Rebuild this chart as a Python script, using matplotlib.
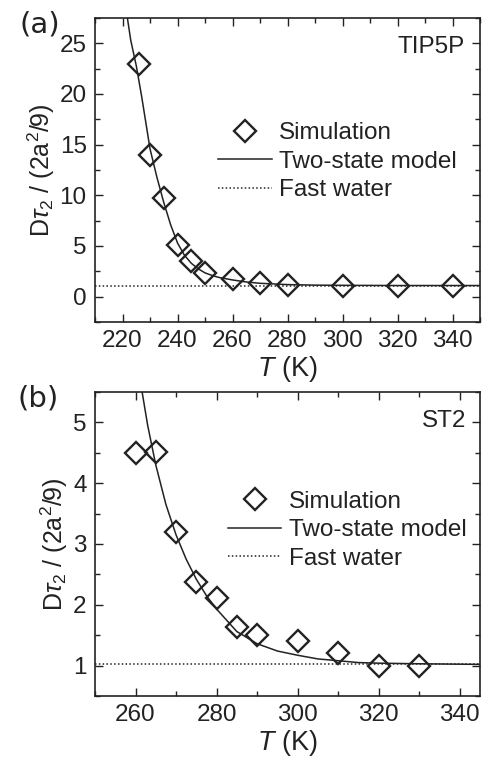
import matplotlib
matplotlib.use("Agg")
import matplotlib.pyplot as plt
from matplotlib.ticker import MultipleLocator

plt.rcParams['font.family'] = ['Liberation Sans', 'DejaVu Sans']
plt.rcParams['mathtext.fontset'] = 'custom'
plt.rcParams['mathtext.rm'] = 'Liberation Sans'
plt.rcParams['mathtext.it'] = 'Liberation Sans:italic'

# ---- Panel (a): TIP5P ----
tip5p_T = [226, 230, 235, 240, 245, 250, 260, 270, 280, 300, 320, 340]
tip5p_sim = [23.0, 14.0, 9.75, 5.1, 3.5, 2.35, 1.7, 1.35, 1.2, 1.1, 1.1, 1.05]
tip5p_model_T = [221.5, 223, 225, 227, 230, 232.5, 235, 237.5, 240, 242.5, 245,
                 247.5, 250, 252.5, 255, 260, 265, 270, 280, 290, 300, 320, 350]
tip5p_model = [28.0, 25.3, 22.8, 19.7, 14.6, 11.8, 9.3, 7.1, 5.3, 4.1, 3.3,
               2.75, 2.35, 2.1, 1.9, 1.65, 1.45, 1.32, 1.19, 1.14, 1.12, 1.1, 1.1]
tip5p_fast = 1.1

# ---- Panel (b): ST2 ----
st2_T = [260, 265, 270, 275, 280, 285, 290, 300, 310, 320, 330]
st2_sim = [4.49, 4.52, 3.19, 2.37, 2.12, 1.64, 1.51, 1.40, 1.20, 1.0, 1.0]
st2_model_T = [261.5, 263, 265, 267.5, 270, 272.5, 275, 277.5, 280, 285, 290,
               295, 300, 305, 310, 315, 320, 330, 345]
st2_model = [5.55, 4.95, 4.3, 3.65, 3.15, 2.75, 2.42, 2.15, 1.93, 1.56, 1.36,
             1.24, 1.17, 1.11, 1.08, 1.05, 1.04, 1.03, 1.02]
st2_fast = 1.02

W, H = 488, 764
fig = plt.figure(figsize=(W / 100, H / 100), dpi=100)

def px_axes(l, t, r, b):
    return fig.add_axes([l / W, 1 - b / H, (r - l) / W, (b - t) / H])

axa = px_axes(95, 18, 480, 322)
axb = px_axes(95, 392, 480, 696)

FS = 17.5
INK = '#222222'

def style(ax, xlim, ylim, xmaj, xmin, ymaj, ymin):
    ax.set_xlim(*xlim)
    ax.set_ylim(*ylim)
    ax.xaxis.set_major_locator(MultipleLocator(xmaj))
    ax.xaxis.set_minor_locator(MultipleLocator(xmin))
    ax.yaxis.set_major_locator(MultipleLocator(ymaj))
    ax.yaxis.set_minor_locator(MultipleLocator(ymin))
    ax.tick_params(which='both', direction='in', top=True, right=True,
                   labelsize=FS, colors=INK)
    ax.tick_params(which='major', length=6, width=1.0, pad=6)
    ax.tick_params(which='minor', length=3.5, width=1.0)
    for s in ax.spines.values():
        s.set_linewidth(1.2)
        s.set_color(INK)
    ax.set_xlabel(r'$T$ (K)', fontsize=19.5, labelpad=1, color=INK)
    ax.set_ylabel(r'D$\tau_2$ / (2a$^2$/9)', fontsize=18, labelpad=2, color=INK)

def draw(ax, T, sim, mT, model, fast, xlim):
    ax.plot(T, sim, linestyle='none', marker='D', markersize=11,
            markerfacecolor='none', markeredgecolor=INK,
            markeredgewidth=1.7, label='Simulation', zorder=3)
    ax.plot(mT, model, color=INK, lw=1.1, label='Two-state model', zorder=2)
    ax.plot(list(xlim), [fast, fast], color=INK, lw=1.1, linestyle=(0, (1, 1.5)),
            label='Fast water', zorder=1)

draw(axa, tip5p_T, tip5p_sim, tip5p_model_T, tip5p_model, tip5p_fast, (210, 350))
style(axa, (210, 350), (-2.5, 27.5), 20, 10, 5, 2.5)
draw(axb, st2_T, st2_sim, st2_model_T, st2_model, st2_fast, (250, 345))
style(axb, (250, 345), (0.5, 5.5), 20, 10, 1, 0.5)

for ax, anchor in ((axa, (0.32, 0.657)), (axb, (0.345, 0.675))):
    ax.legend(loc='upper left', bbox_to_anchor=anchor, frameon=False,
              fontsize=FS, handlelength=2.2, handletextpad=0.3,
              labelspacing=0.27, borderpad=0, borderaxespad=0, labelcolor=INK)

axa.text(0.96, 0.905, 'TIP5P', transform=axa.transAxes, ha='right', va='center',
         fontsize=FS, color=INK)
axb.text(0.965, 0.905, 'ST2', transform=axb.transAxes, ha='right', va='center',
         fontsize=FS, color=INK)

fig.text(40 / W, 1 - 25 / H, '(a)', fontsize=21, family='DejaVu Sans',
         ha='center', va='center', color=INK)
fig.text(38 / W, 1 - 399 / H, '(b)', fontsize=21, family='DejaVu Sans',
         ha='center', va='center', color=INK)

fig.savefig('out.png', dpi=100)
